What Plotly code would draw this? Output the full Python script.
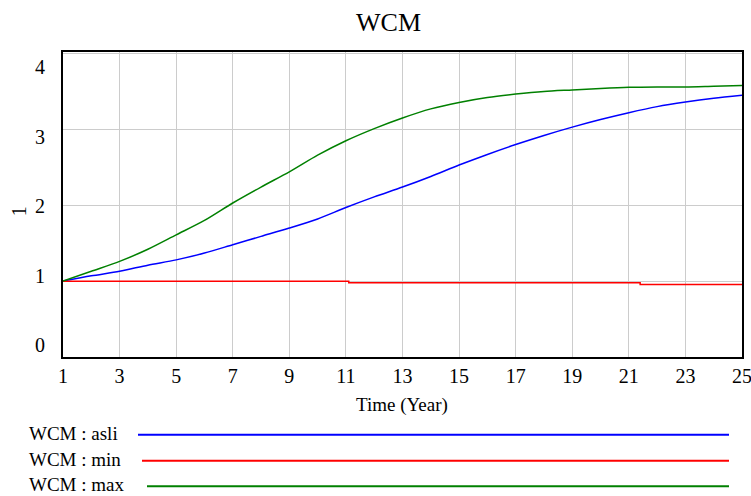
import plotly.graph_objects as go

# ---- data ----
years = list(range(1, 26))
asli = [1.00, 1.07, 1.13, 1.21, 1.28, 1.37, 1.48, 1.59, 1.70, 1.82, 1.97, 2.11, 2.24,
        2.38, 2.53, 2.67, 2.80, 2.92, 3.03, 3.13, 3.22, 3.30, 3.36, 3.41, 3.45]
wcm_max = [1.00, 1.13, 1.26, 1.42, 1.61, 1.80, 2.03, 2.24, 2.44, 2.66, 2.85, 3.01, 3.15,
           3.27, 3.355, 3.42, 3.465, 3.50, 3.52, 3.54, 3.555, 3.56, 3.56, 3.57, 3.58]
min_t = [1, 11.1, 21.4, 25]
wcm_min = [1.00, 0.978, 0.957, 0.957]

series_names = ["WCM : asli", "WCM : min", "WCM : max"]
series_colors = ["#0000ff", "#ff0000", "#008000"]
x_ticks = list(range(1, 26, 2))
y_ticks = [0, 1, 2, 3, 4]
y_tick_labels = ["0", "1", "2", "3", "4"]

# ---- layout geometry (pixels) ----
W, H = 751, 496
L, R, T, B = 63, 742, 51.5, 357
FONT = "Liberation Serif, Times New Roman, serif"


def px(x):
    return (x - L) / (R - L)


def py(y):
    return (B - y) / (B - T)


fig = go.Figure()
fig.add_trace(go.Scatter(x=years, y=asli, mode="lines", name=series_names[0],
                         line=dict(color=series_colors[0], width=1.5, shape="spline",
                                   smoothing=0.8)))
fig.add_trace(go.Scatter(x=min_t, y=wcm_min, mode="lines", name=series_names[1],
                         line=dict(color=series_colors[1], width=1.5, shape="hv")))
fig.add_trace(go.Scatter(x=years, y=wcm_max, mode="lines", name=series_names[2],
                         line=dict(color=series_colors[2], width=1.5, shape="spline",
                                   smoothing=0.8)))

annotations = []
# title
annotations.append(dict(text="WCM", x=px(388), y=py(22), xref="paper", yref="paper",
                        xanchor="center", yanchor="middle", showarrow=False,
                        font=dict(family=FONT, size=26, color="black")))
# y tick labels (evenly spread as in reference)
for i, lab in enumerate(y_tick_labels):
    ypix = 345 - i * 69.5
    annotations.append(dict(text=lab, x=px(47), y=py(ypix), xref="paper", yref="paper",
                            xanchor="right", yanchor="middle", showarrow=False,
                            font=dict(family=FONT, size=20, color="black")))
# y axis title
annotations.append(dict(text="1", x=px(19), y=py(211), xref="paper", yref="paper",
                        xanchor="center", yanchor="middle", showarrow=False, textangle=-90,
                        font=dict(family=FONT, size=20, color="black")))
# x axis title
annotations.append(dict(text="Time (Year)", x=px(402), y=py(405), xref="paper", yref="paper",
                        xanchor="center", yanchor="middle", showarrow=False,
                        font=dict(family=FONT, size=19, color="black")))

# legend
shapes = []
leg_y = [435, 461, 486.5]
leg_text_y = [434, 460, 484.5]
leg_x0 = [138, 142, 147]
for name, col, yy, ty, x0 in zip(series_names, series_colors, leg_y, leg_text_y, leg_x0):
    annotations.append(dict(text=name, x=px(27), y=py(ty), xref="paper", yref="paper",
                            xanchor="left", yanchor="middle", showarrow=False,
                            font=dict(family=FONT, size=19, color="black")))
    shapes.append(dict(type="line", xref="paper", yref="paper",
                       x0=px(x0), x1=px(729), y0=py(yy), y1=py(yy),
                       line=dict(color=col, width=2)))

fig.update_layout(
    width=W, height=H, autosize=False,
    margin=dict(l=L, r=W - R, t=T, b=H - B, pad=0, autoexpand=False),
    plot_bgcolor="white", paper_bgcolor="white",
    showlegend=False,
    annotations=annotations,
    shapes=shapes,
    font=dict(family=FONT, size=20, color="black"),
)
fig.update_xaxes(range=[1, 25], tickvals=x_ticks, ticks="", showgrid=True,
                 gridcolor="#cccccc", gridwidth=1, showline=True, linecolor="black",
                 linewidth=2, mirror=True, zeroline=False, automargin=False,
                 ticklabeloverflow="allow",
                 tickfont=dict(family=FONT, size=20, color="black"))
fig.update_yaxes(range=[0, 4.02], tickvals=y_ticks, showticklabels=False, ticks="",
                 showgrid=True, gridcolor="#cccccc", gridwidth=1, showline=True,
                 linecolor="black", linewidth=2, mirror=True, zeroline=False,
                 automargin=False)

fig.write_html("out.html",
               config={"displayModeBar": False, "responsive": False},
               post_script="document.documentElement.style.overflow='hidden';"
                           "document.body.style.overflow='hidden';"
                           "document.body.style.margin='0px';"
                           "document.body.style.padding='0px';")
